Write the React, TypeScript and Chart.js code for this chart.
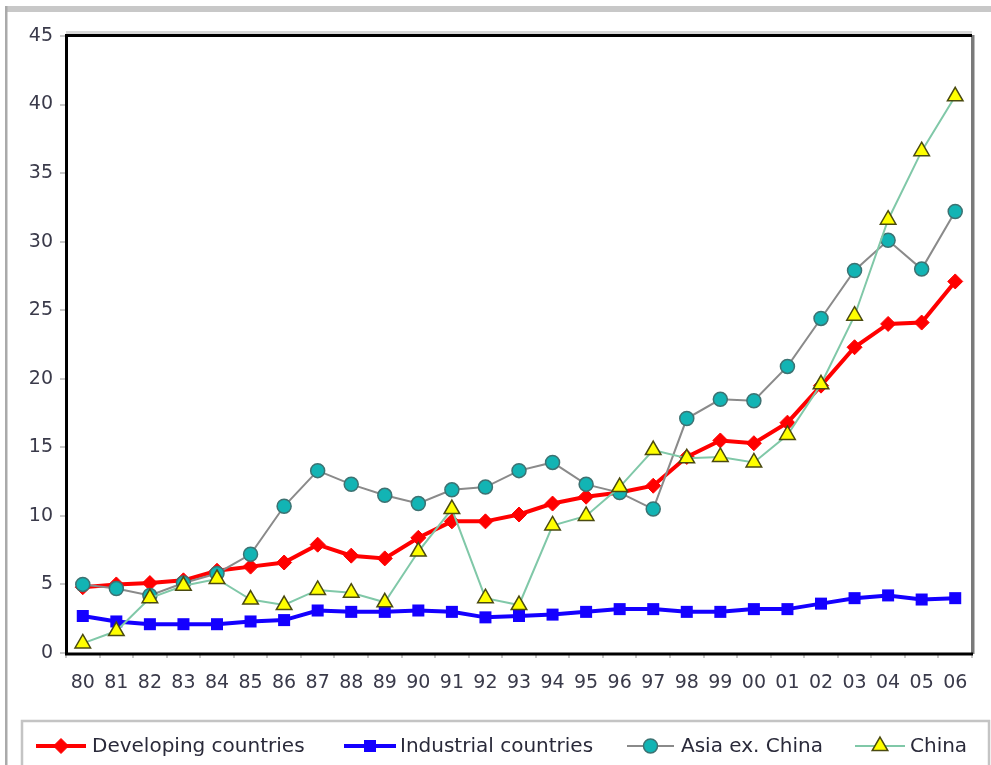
import React, { useEffect, useRef } from "react";
import { Chart, registerables } from "chart.js";

Chart.register(...registerables);

const years = ["80", "81", "82", "83", "84", "85", "86", "87", "88", "89", "90", "91", "92", "93", "94", "95", "96", "97", "98", "99", "00", "01", "02", "03", "04", "05", "06"];
const developing = [4.8, 5.0, 5.1, 5.3, 6.0, 6.3, 6.6, 7.9, 7.1, 6.9, 8.4, 9.6, 9.6, 10.1, 10.9, 11.4, 11.7, 12.2, 14.3, 15.5, 15.3, 16.8, 19.5, 22.3, 24.0, 24.1, 27.1];
const industrial = [2.7, 2.3, 2.1, 2.1, 2.1, 2.3, 2.4, 3.1, 3.0, 3.0, 3.1, 3.0, 2.6, 2.7, 2.8, 3.0, 3.2, 3.2, 3.0, 3.0, 3.2, 3.2, 3.6, 4.0, 4.2, 3.9, 4.0];
const asiaExChina = [5.0, 4.7, 4.2, 5.1, 5.8, 7.2, 10.7, 13.3, 12.3, 11.5, 10.9, 11.9, 12.1, 13.3, 13.9, 12.3, 11.7, 10.5, 17.1, 18.5, 18.4, 20.9, 24.4, 27.9, 30.1, 28.0, 32.2];
const china = [0.7, 1.6, 4.0, 4.9, 5.4, 3.9, 3.5, 4.6, 4.4, 3.7, 7.4, 10.5, 4.0, 3.5, 9.3, 10.0, 12.1, 14.8, 14.2, 14.3, 13.9, 15.9, 19.6, 24.6, 31.6, 36.6, 40.6];
const seriesNames = ["Developing countries", "Industrial countries", "Asia ex. China", "China"];
const yMin = 0;
const yMax = 45;
const yStep = 5;

const FONT = '"DejaVu Sans", "Liberation Sans", Arial, sans-serif';

function drawMarker(ctx: CanvasRenderingContext2D, style: string, x: number, y: number, r: number, fill: string, stroke: string, bw: number) {
  ctx.save();
  ctx.beginPath();
  if (style === "circle") {
    ctx.arc(x, y, r, 0, Math.PI * 2);
  } else if (style === "rect") {
    const s = Math.SQRT1_2 * r;
    ctx.rect(x - s, y - s, 2 * s, 2 * s);
  } else if (style === "rectRot") {
    ctx.moveTo(x, y - r);
    ctx.lineTo(x + r, y);
    ctx.lineTo(x, y + r);
    ctx.lineTo(x - r, y);
    ctx.closePath();
  } else if (style === "triangle") {
    for (let i = 0; i < 3; i++) {
      const a = -Math.PI / 2 + (i * 2 * Math.PI) / 3;
      const px = x + Math.cos(a) * r;
      const py = y + Math.sin(a) * r;
      if (i === 0) ctx.moveTo(px, py);
      else ctx.lineTo(px, py);
    }
    ctx.closePath();
  }
  ctx.fillStyle = fill;
  ctx.fill();
  if (bw > 0) {
    ctx.lineWidth = bw;
    ctx.strokeStyle = stroke;
    ctx.stroke();
  }
  ctx.restore();
}

const framePlugin = {
  id: "frameAndLegend",
  beforeDraw(chart: any) {
    const ctx = chart.ctx as CanvasRenderingContext2D;
    ctx.save();
    ctx.fillStyle = "#ffffff";
    ctx.fillRect(0, 0, chart.width, chart.height);
    ctx.fillStyle = "#c8c8c8";
    ctx.fillRect(5, 6, chart.width - 5, 6);
    ctx.fillStyle = "#aaaaaa";
    ctx.fillRect(5, 6, 2.5, chart.height - 6);
    ctx.restore();
  },
  afterDatasetsDraw(chart: any) {
    const ctx = chart.ctx as CanvasRenderingContext2D;
    const a = chart.chartArea;
    ctx.save();
    ctx.fillStyle = "#d8d8d8";
    ctx.fillRect(a.left, a.top - 5, a.right - a.left, 3);
    ctx.fillStyle = "#7a7a7a";
    ctx.fillRect(a.right - 1, a.top - 1, 3.5, a.bottom - a.top + 2);
    ctx.fillStyle = "#000000";
    ctx.fillRect(a.left - 1, a.top - 2, a.right - a.left + 1, 3);
    ctx.fillRect(a.left - 1, a.top - 2, 3, a.bottom - a.top + 3);
    ctx.fillRect(a.left - 1, a.bottom - 0.5, a.right - a.left + 2, 3);
    ctx.restore();
  },
  afterDraw(chart: any) {
    const ctx = chart.ctx as CanvasRenderingContext2D;
    ctx.save();
    ctx.strokeStyle = "#c4c4c4";
    ctx.lineWidth = 2.5;
    ctx.strokeRect(22, 721, 967, 80);
    const items = [
      { x0: 36, x1: 86, tx: 92 },
      { x0: 344, x1: 396, tx: 400 },
      { x0: 627, x1: 674, tx: 681 },
      { x0: 855, x1: 905, tx: 910 },
    ];
    const y = 746;
    chart.data.datasets.forEach((ds: any, i: number) => {
      const it = items[i];
      ctx.beginPath();
      ctx.strokeStyle = ds.borderColor;
      ctx.lineWidth = ds.borderWidth;
      ctx.moveTo(it.x0, y);
      ctx.lineTo(it.x1, y);
      ctx.stroke();
      drawMarker(ctx, ds.pointStyle, (it.x0 + it.x1) / 2, y, ds.pointRadius, ds.pointBackgroundColor, ds.pointBorderColor, ds.pointBorderWidth);
      ctx.fillStyle = "#2a2a3a";
      ctx.font = "20px " + FONT;
      ctx.textBaseline = "middle";
      ctx.textAlign = "left";
      ctx.fillText(ds.label, it.tx, y + 1);
    });
    ctx.restore();
  },
};

export default function App() {
  const ref = useRef<HTMLCanvasElement | null>(null);
  useEffect(() => {
    if (!ref.current) return;
    const chart = new Chart(ref.current, {
      type: "line",
      data: {
        labels: years,
        datasets: [
          {
            label: seriesNames[0],
            data: developing,
            borderColor: "#ff0000",
            borderWidth: 4,
            pointStyle: "rectRot",
            pointRadius: 7.5,
            pointBackgroundColor: "#ff0000",
            pointBorderColor: "#ff0000",
            pointBorderWidth: 1,
            order: 2,
          },
          {
            label: seriesNames[1],
            data: industrial,
            borderColor: "#1400ff",
            borderWidth: 4,
            pointStyle: "rect",
            pointRadius: 8.5,
            pointBackgroundColor: "#1400ff",
            pointBorderColor: "#1400ff",
            pointBorderWidth: 0,
            order: 3,
          },
          {
            label: seriesNames[2],
            data: asiaExChina,
            borderColor: "#8a8a8a",
            borderWidth: 2,
            pointStyle: "circle",
            pointRadius: 7,
            pointBackgroundColor: "#12b4b4",
            pointBorderColor: "#3d7272",
            pointBorderWidth: 1.5,
            order: 1,
          },
          {
            label: seriesNames[3],
            data: china,
            borderColor: "#80c8a8",
            borderWidth: 2,
            pointStyle: "triangle",
            pointRadius: 9,
            pointBackgroundColor: "#ffff00",
            pointBorderColor: "#4a4a10",
            pointBorderWidth: 1.5,
            order: 0,
          },
        ],
      },
      options: {
        animation: false,
        responsive: false,
        clip: false as any,
        layout: { padding: { left: 0, top: 36, right: 19, bottom: 0 } },
        plugins: {
          legend: { display: false },
          tooltip: { enabled: false },
          title: { display: false },
        },
        scales: {
          x: {
            type: "category",
            offset: true,
            border: { display: false },
            grid: {
              display: true,
              offset: true,
              drawOnChartArea: false,
              drawTicks: true,
              tickLength: 5,
              color: "#c8c8c8",
              lineWidth: 2,
            },
            ticks: {
              color: "#3a3a4a",
              font: { family: FONT, size: 19 },
              padding: 14,
              maxRotation: 0,
              autoSkip: false,
            },
            afterFit: (s: any) => {
              s.height = 112;
            },
          },
          y: {
            min: yMin,
            max: yMax,
            border: { display: false },
            grid: {
              display: true,
              drawOnChartArea: false,
              drawTicks: true,
              tickLength: 6,
              color: "#c8c8c8",
              lineWidth: 2,
            },
            ticks: {
              stepSize: yStep,
              color: "#3a3a4a",
              font: { family: FONT, size: 19 },
              padding: 7,
            },
            afterFit: (s: any) => {
              s.width = 66;
            },
          },
        },
      },
      plugins: [framePlugin],
    });
    return () => chart.destroy();
  }, []);
  return (
    <div style={{ position: "absolute", left: 0, top: 0, width: 991, height: 765, background: "#fff" }}>
      <canvas ref={ref} width={991} height={765} style={{ display: "block", width: 991, height: 765 }} />
    </div>
  );
}
